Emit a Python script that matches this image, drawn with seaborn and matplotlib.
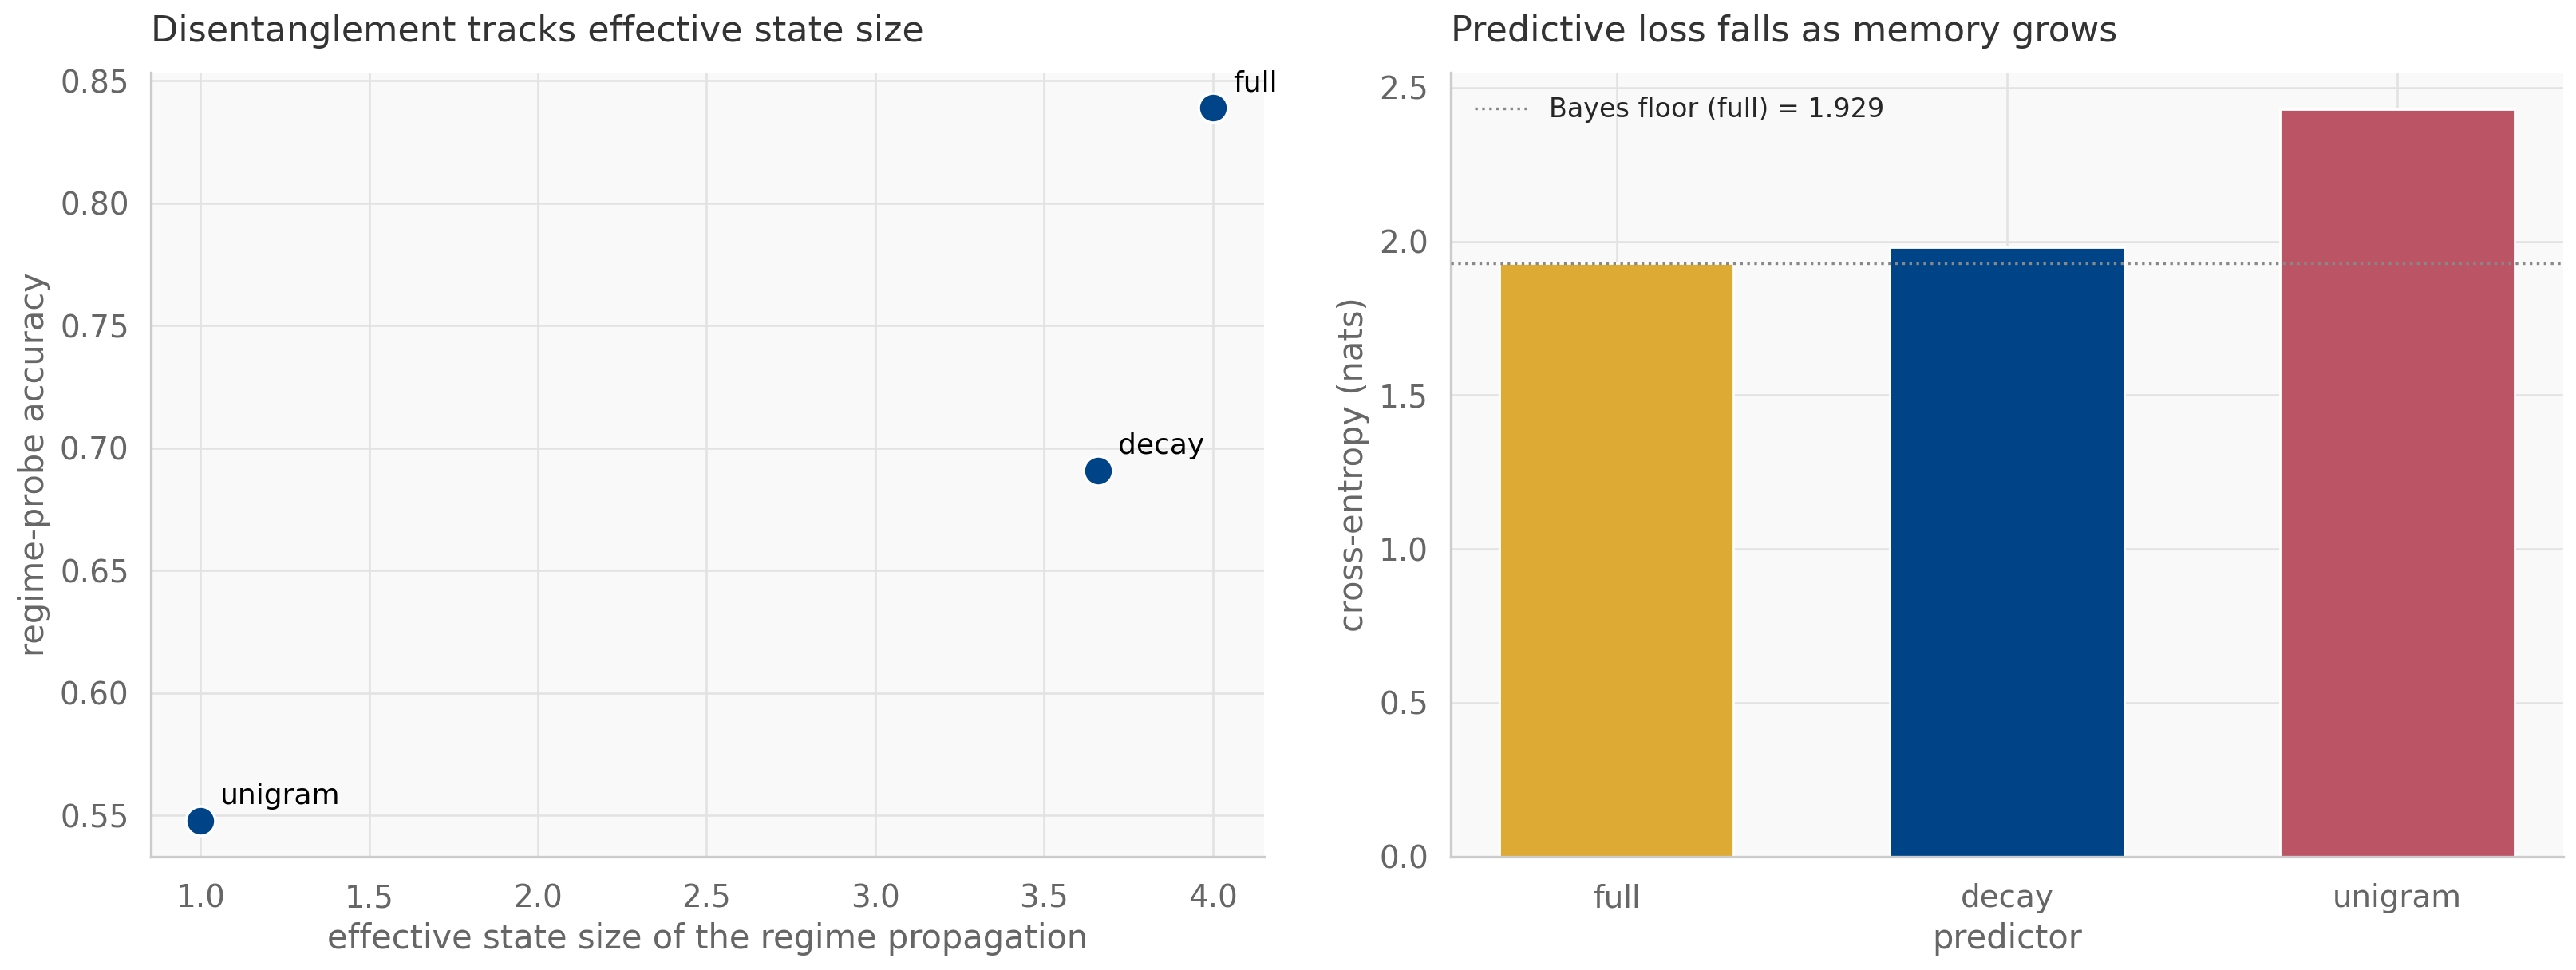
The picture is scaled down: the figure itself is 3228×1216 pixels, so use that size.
import matplotlib
matplotlib.use("Agg")
import matplotlib.pyplot as plt
import seaborn as sns
import pandas as pd

# scatter panel data
probe_names = ["unigram", "decay", "full"]
state_size = [1.0, 3.66, 4.0]
probe_acc = [0.548, 0.691, 0.839]

# bar panel data
predictors = ["full", "decay", "unigram"]
cross_entropy = [1.929, 1.98, 2.43]
bayes_floor = 1.929
bar_colors = ["#DDAA33", "#004488", "#BB5566"]

sns.set_theme(style="whitegrid")
plt.rcParams.update({
    "font.family": ["DejaVu Sans"],
    "axes.facecolor": "#f9f9f9",
    "axes.edgecolor": "#cccccc",
    "grid.color": "#e2e2e2",
    "grid.linewidth": 0.9,
    "axes.labelcolor": "#666666",
})

fig, (ax1, ax2) = plt.subplots(1, 2, figsize=(16.14, 6.08), dpi=200)
fig.subplots_adjust(left=0.0587, right=0.995, bottom=0.117, top=0.925, wspace=0.168)

scatter_df = pd.DataFrame({"name": probe_names, "x": state_size, "y": probe_acc})
sns.scatterplot(data=scatter_df, x="x", y="y", ax=ax1, s=175, color="#004488",
                edgecolor="white", linewidth=1.2, zorder=3)
for name, x, y in zip(probe_names, state_size, probe_acc):
    ax1.annotate(name, (x, y), xytext=(9, 5), textcoords="offset points",
                 fontsize=13, color="black", ha="left", va="bottom")
ax1.set_xlim(0.854, 4.151)
ax1.set_ylim(0.5333, 0.8533)
ax1.set_xticks([1.0, 1.5, 2.0, 2.5, 3.0, 3.5, 4.0])
ax1.set_xlabel("effective state size of the regime propagation", fontsize=15)
ax1.set_ylabel("regime-probe accuracy", fontsize=15)
ax1.set_title("Disentanglement tracks effective state size", fontsize=16,
              loc="left", color="#333333", pad=14)

bar_df = pd.DataFrame({"predictor": predictors, "ce": cross_entropy})
sns.barplot(data=bar_df, x="predictor", y="ce", hue="predictor", palette=bar_colors,
            ax=ax2, width=0.6, legend=False, saturation=1, zorder=2)
ax2.axhline(bayes_floor, color="#888888", linestyle=":", linewidth=1.2,
            label=f"Bayes floor (full) = {bayes_floor:.3f}", zorder=3)
ax2.set_ylim(0, 2.548)
ax2.set_xlim(-0.425, 2.425)
ax2.set_xlabel("predictor", fontsize=15)
ax2.set_ylabel("cross-entropy (nats)", fontsize=15)
ax2.set_title("Predictive loss falls as memory grows", fontsize=16,
              loc="left", color="#333333", pad=14)
ax2.legend(loc="upper left", frameon=False, fontsize=12, handlelength=2.0)

for ax in (ax1, ax2):
    sns.despine(ax=ax)
    ax.spines["left"].set_linewidth(1.2)
    ax.spines["bottom"].set_linewidth(1.2)
    ax.tick_params(axis="both", labelsize=14, width=1, colors="#555555",
                   labelcolor="#666666")
    ax.tick_params(axis="x", length=6, pad=6, colors="#777777", labelcolor="#666666")
    ax.tick_params(axis="y", length=5, pad=5)
    ax.grid(True, axis="both")
    ax.set_axisbelow(True)

fig.savefig("out.png", dpi=200)
